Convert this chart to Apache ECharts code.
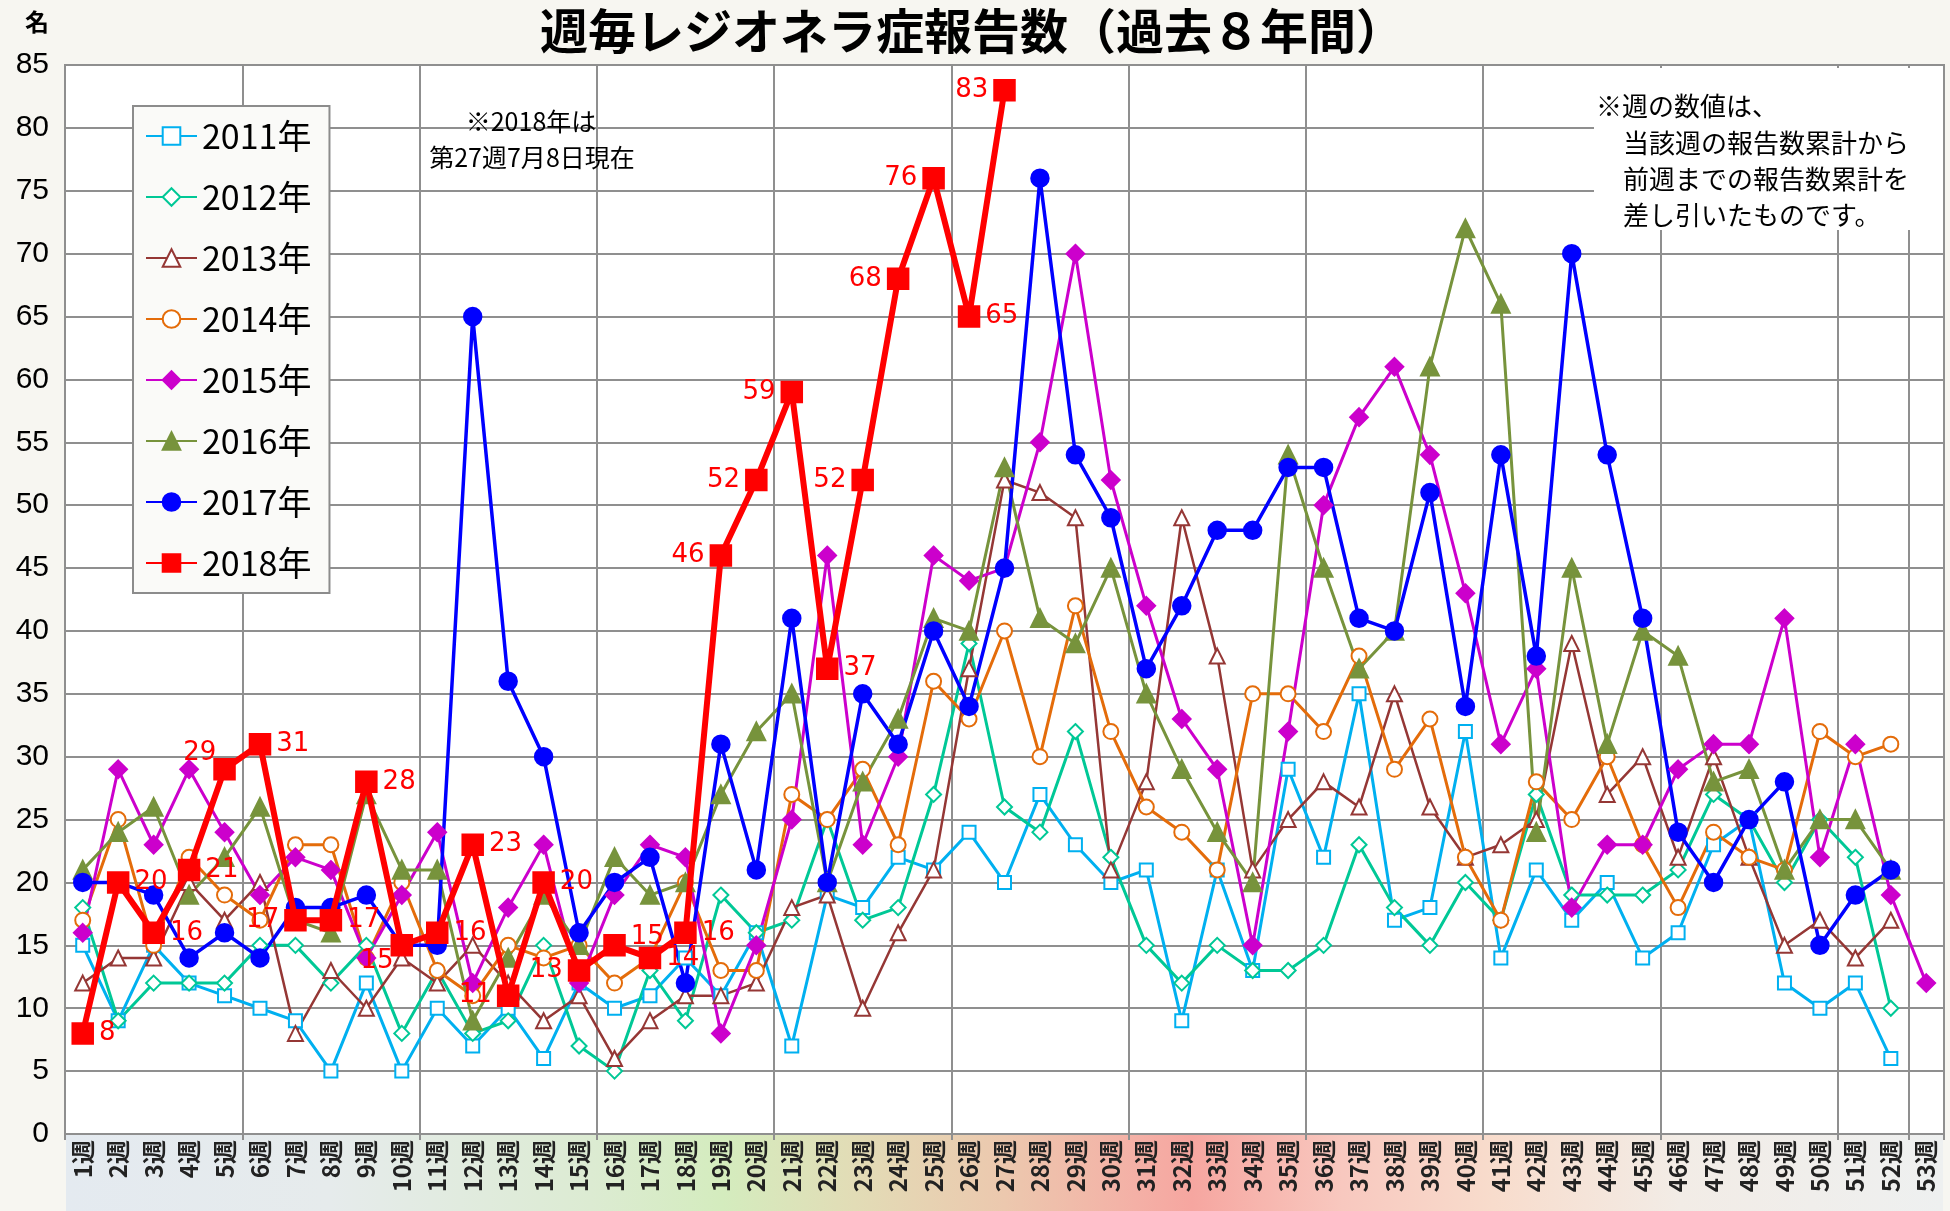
<!DOCTYPE html>
<html><head><meta charset="utf-8">
<script src="https://cdn.jsdelivr.net/npm/echarts@6/dist/echarts.min.js"></script>
<style>html,body{margin:0;padding:0;background:#f7f6f1}#c{width:1950px;height:1211px}</style>
</head><body><div id="c"></div>
<script>
const weeks = ['1週','2週','3週','4週','5週','6週','7週','8週','9週','10週','11週','12週','13週','14週','15週','16週','17週','18週','19週','20週','21週','22週','23週','24週','25週','26週','27週','28週','29週','30週','31週','32週','33週','34週','35週','36週','37週','38週','39週','40週','41週','42週','43週','44週','45週','46週','47週','48週','49週','50週','51週','52週','53週'];
const yTicks = [0,5,10,15,20,25,30,35,40,45,50,55,60,65,70,75,80,85];
const v2011 = [15,9,15,12,11,10,9,5,12,5,10,7,10,6,12,10,11,14,11,16,7,19,18,22,21,24,20,27,23,20,21,9,21,13,29,22,35,17,18,32,14,21,17,20,14,16,23,25,12,10,12,6,null];
const v2012 = [18,9,12,12,12,15,15,12,15,8,13,8,9,15,7,5,13,9,19,16,17,25,17,18,27,39,26,24,32,22,15,12,15,13,13,15,23,18,15,20,17,27,19,19,19,21,27,25,20,25,22,10,null];
const v2013 = [12,14,14,20,17,20,8,13,10,14,12,15,12,9,11,6,9,11,11,12,18,19,10,16,21,37,52,51,49,21,28,49,38,21,25,28,26,35,26,22,23,25,39,27,30,22,30,22,15,17,14,17,null];
const v2014 = [17,25,15,22,19,17,23,23,14,20,13,11,15,14,15,12,14,20,13,13,27,25,29,23,36,33,40,30,42,32,26,24,21,35,35,32,38,29,33,22,17,28,25,30,23,18,24,22,21,32,30,31,null];
const v2015 = [16,29,23,29,24,19,22,21,14,19,24,12,18,23,12,19,23,22,8,15,25,46,23,30,46,44,45,55,70,52,42,33,29,15,32,50,57,61,54,43,31,37,18,23,23,29,31,31,41,22,31,19,12];
const v2016 = [21,24,26,19,22,26,17,16,27,21,21,9,14,19,15,22,19,20,27,32,35,20,28,33,41,40,53,41,39,45,35,29,24,20,54,45,37,40,61,72,66,24,45,31,40,38,28,29,21,25,25,21,null];
const v2017 = [20,20,19,14,16,14,18,18,19,15,15,65,36,30,16,20,22,12,31,21,41,20,35,31,40,34,45,76,54,49,37,42,48,48,53,53,41,40,51,34,54,38,70,54,41,24,20,25,28,15,19,21,null];
const v2018 = [8,20,16,21,29,31,17,17,28,15,16,23,11,20,13,15,14,16,46,52,59,37,52,68,76,65,83];

const chart = echarts.init(document.getElementById('c'));
const GRID = '#8f8f8f';
const JP = '"Noto Sans CJK JP","Noto Sans",sans-serif';

// label placement for 2018 values
const side2018 = ['r','r','r','r','tl','r','l','r','r','bl','r','r','l','r','l','tr','r','r','l','l','l','r','l','l','l','r','l'];
const lblCfg = {
  r:{position:'right', offset:[0,0]},
  l:{position:'left', offset:[0,0]},
  tl:{position:'left', offset:[8,-16]},
  bl:{position:'left', offset:[8,16]},
  tr:{position:'right', offset:[0,-8]}
};
const d2018 = v2018.map((v,i)=>({value:v, label:lblCfg[side2018[i]]}));

const defs = [
  ['2011年', v2011, '#00b0f0', 'emptyRect', 13, 3],
  ['2012年', v2012, '#00c896', 'emptyDiamond', 15, 3],
  ['2013年', v2013, '#953735', 'emptyTriangle', 15, 2.5],
  ['2014年', v2014, '#e46c0a', 'emptyCircle', 15, 3],
  ['2015年', v2015, '#cc00cc', 'diamond', 17, 3],
  ['2016年', v2016, '#77933c', 'triangle', 17, 3],
  ['2017年', v2017, '#0000ff', 'circle', 17, 3.5],
  ['2018年', d2018, '#ff0000', 'rect', 20, 6]
];
const series = defs.map(([name,data,color,symbol,size,w])=>{
  const s = {
    name, type:'line', data, symbol, symbolSize:size, showAllSymbol:true,
    lineStyle:{color, width:w}, itemStyle:{color, borderColor:color, borderWidth:2.5},
    emphasis:{disabled:true}, animation:false, connectNulls:false
  };
  if (name==='2018年') {
    s.label = {show:true, color:'#ff0000', fontSize:26, fontFamily:'"DejaVu Sans",Verdana,sans-serif', distance:5};
    s.z = 5;
  }
  return s;
});

chart.setOption({
  backgroundColor:'#f7f6f1',
  animation:false,
  grid:{left:65, right:6, top:65, bottom:77, show:true, backgroundColor:'#ffffff', borderColor:GRID, borderWidth:2},
  legend:{
    orient:'vertical', left:133, top:106,
    padding:[13,18,13,12], itemGap:27, itemWidth:51, itemHeight:22,
    backgroundColor:'#fafaf8', borderColor:'#8c8c8c', borderWidth:2,
    textStyle:{fontSize:34, lineHeight:34, color:'#000', fontFamily:JP},
    data:defs.map(d=>d[0])
  },
  xAxis:{
    type:'category', data:weeks, boundaryGap:true,
    axisLine:{lineStyle:{color:GRID, width:2}},
    axisTick:{show:true, interval:4, length:6, lineStyle:{color:GRID, width:2}},
    splitLine:{show:true, interval:4, lineStyle:{color:GRID, width:2}},
    axisLabel:{interval:0, rotate:90, fontSize:24, fontWeight:'bold', color:'#222', fontFamily:JP, margin:6}
  },
  yAxis:{
    type:'value', min:0, max:85, interval:5,
    axisLine:{show:true, lineStyle:{color:GRID, width:2}},
    axisTick:{show:false},
    splitLine:{lineStyle:{color:GRID, width:2}},
    axisLabel:{fontSize:30, color:'#000', fontFamily:'"Liberation Sans",Arial,sans-serif', margin:16,
      formatter:v=>yTicks.includes(v)?String(v):''}
  },
  graphic:[
    {type:'rect', z:-10, shape:{x:66, y:1135, width:1877, height:76},
     style:{fill:new echarts.graphic.LinearGradient(0,0,1,0,[
      {offset:0, color:'#e4eaf0'},{offset:0.14, color:'#e6ebec'},{offset:0.28, color:'#dcebd2'},
      {offset:0.35, color:'#d4ecbe'},{offset:0.42, color:'#e2dcb6'},{offset:0.5, color:'#ecc8ae'},
      {offset:0.57, color:'#f4b0a6'},{offset:0.6, color:'#f6a6a0'},{offset:0.68, color:'#f8c8bf'},
      {offset:0.76, color:'#f8dccc'},{offset:0.86, color:'#f2ece6'},{offset:1, color:'#eef0f0'}])}},
    {type:'text', x:972, y:31, style:{text:'週毎レジオネラ症報告数（過去８年間）', fontSize:48, fontWeight:'bold', fontFamily:JP, fill:'#000', align:'center', verticalAlign:'middle'}},
    {type:'text', x:37, y:22, style:{text:'名', fontSize:24, fontWeight:'bold', fontFamily:JP, fill:'#000', align:'center', verticalAlign:'middle'}},
    {type:'text', x:531, y:121, z:6, style:{text:'※2018年は', fontSize:25, fontFamily:JP, fill:'#000', align:'center', verticalAlign:'middle'}},
    {type:'text', x:532, y:157, z:6, style:{text:'第27週7月8日現在', fontSize:25, fontFamily:JP, fill:'#000', align:'center', verticalAlign:'middle'}},
    {type:'rect', z:5, shape:{x:1594, y:68, width:349, height:162}, style:{fill:'#ffffff'}},
    {type:'text', x:1596, y:106, z:6, style:{text:'※週の数値は、', fontSize:26, fontFamily:JP, fill:'#000', align:'left', verticalAlign:'middle'}},
    {type:'text', x:1623, y:125, z:6, style:{text:'当該週の報告数累計から\n前週までの報告数累計を\n差し引いたものです。', fontSize:26, lineHeight:36, fontFamily:JP, fill:'#000', align:'left', verticalAlign:'top'}}
  ],
  series
});
</script></body></html>
